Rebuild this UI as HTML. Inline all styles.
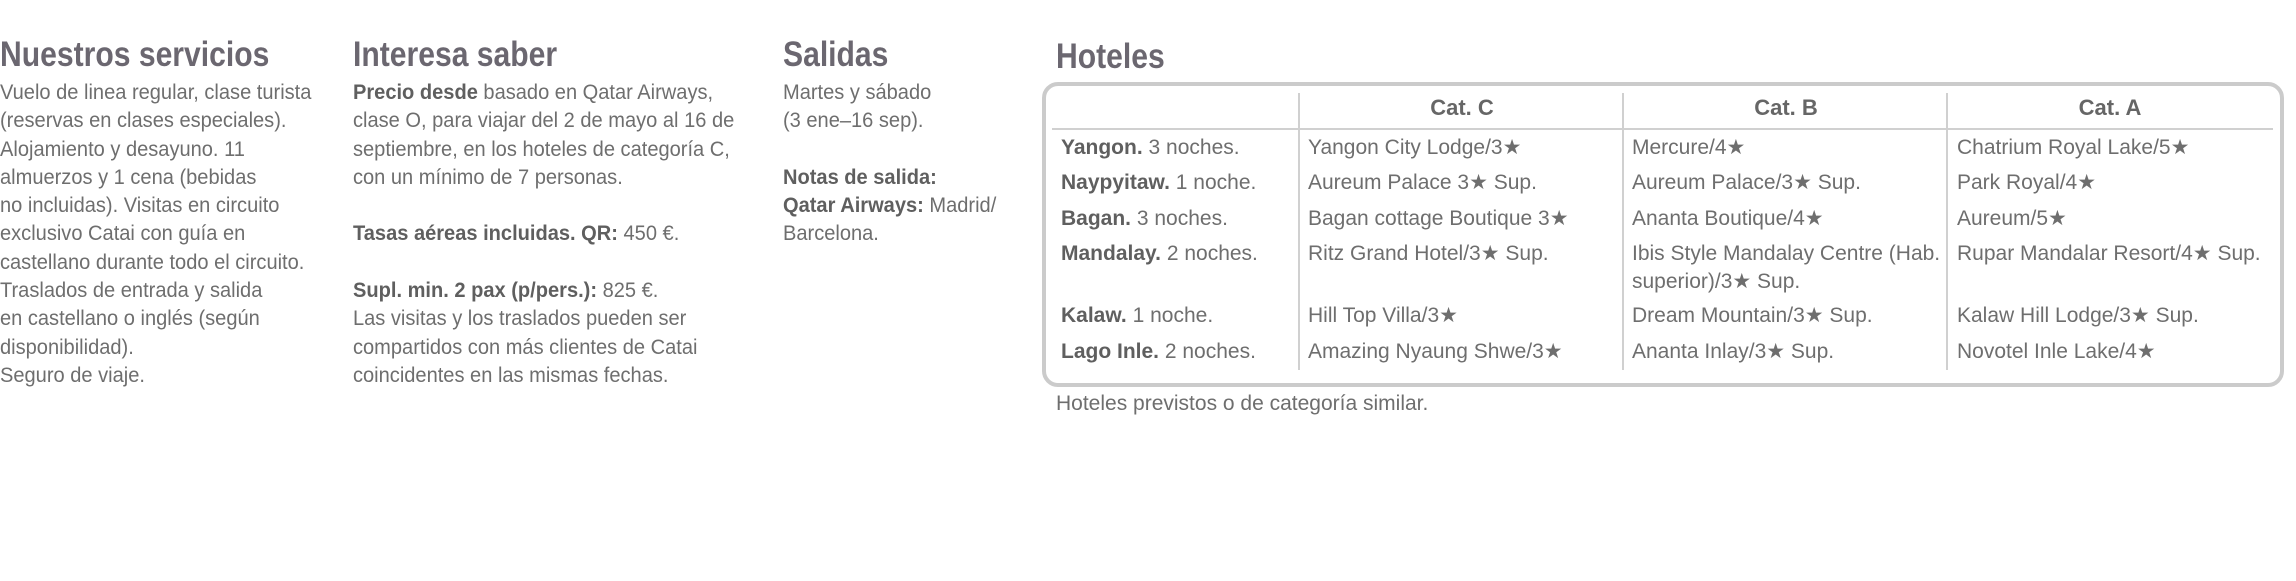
<!DOCTYPE html>
<html><head><meta charset="utf-8"><style>
html,body{margin:0;padding:0;background:#fff;}
body{width:2296px;height:581px;position:relative;overflow:hidden;font-family:"Liberation Sans Narrow","Liberation Sans",sans-serif;color:#6e6e6e;}
.h{position:absolute;font-size:35px;line-height:34px;font-weight:bold;color:#6b6770;white-space:nowrap;transform:scaleX(0.86);transform-origin:0 0;}
.t{position:absolute;font-size:21px;line-height:28.3px;white-space:nowrap;transform:scaleX(0.955);transform-origin:0 0;}
b{color:#5f5f5f;}
.c{position:absolute;font-size:21px;line-height:28px;white-space:nowrap;}
.hd{position:absolute;font-size:22px;line-height:28px;font-weight:bold;color:#666;text-align:center;width:324px;}
.v{position:absolute;width:2px;background:#d0d0d0;top:93px;height:277px;}
</style></head><body>
<div class="h" style="left:0;top:38px">Nuestros servicios</div>
<div class="t" style="left:0;top:79px">Vuelo de linea regular, clase turista<br>(reservas en clases especiales).<br>Alojamiento y desayuno. 11<br>almuerzos y 1 cena (bebidas<br>no incluidas). Visitas en circuito<br>exclusivo Catai con guía en<br>castellano durante todo el circuito.<br>Traslados de entrada y salida<br>en castellano o inglés (según<br>disponibilidad).<br>Seguro de viaje.</div>

<div class="h" style="left:353px;top:38px">Interesa saber</div>
<div class="t" style="left:353px;top:79px"><b>Precio desde</b> basado en Qatar Airways,<br>clase O, para viajar del 2 de mayo al 16 de<br>septiembre, en los hoteles de categoría C,<br>con un mínimo de 7 personas.<br>&nbsp;<br><b>Tasas aéreas incluidas. QR:</b> 450 €.<br>&nbsp;<br><b>Supl. min. 2 pax (p/pers.):</b> 825 €.<br>Las visitas y los traslados pueden ser<br>compartidos con más clientes de Catai<br>coincidentes en las mismas fechas.</div>

<div class="h" style="left:783px;top:38px">Salidas</div>
<div class="t" style="left:783px;top:79px">Martes y sábado<br>(3 ene–16 sep).<br>&nbsp;<br><b>Notas de salida:</b><br><b>Qatar Airways:</b> Madrid/<br>Barcelona.</div>

<div class="h" style="left:1056px;top:40px">Hoteles</div>
<div style="position:absolute;left:1042px;top:82px;width:1234px;height:297px;border:4px solid #cbcbcb;border-radius:16px;"></div>
<div style="position:absolute;left:1052px;top:128px;width:1221px;height:2px;background:#d0d0d0;"></div>
<div class="v" style="left:1298px"></div>
<div class="v" style="left:1622px"></div>
<div class="v" style="left:1946px"></div>
<div class="hd" style="left:1300px;top:94px">Cat. C</div>
<div class="hd" style="left:1624px;top:94px">Cat. B</div>
<div class="hd" style="left:1948px;top:94px">Cat. A</div>

<div class="c" style="left:1061px;top:134px"><b>Yangon.</b> 3 noches.</div>
<div class="c" style="left:1061px;top:169px"><b>Naypyitaw.</b> 1 noche.</div>
<div class="c" style="left:1061px;top:205px"><b>Bagan.</b> 3 noches.</div>
<div class="c" style="left:1061px;top:240px"><b>Mandalay.</b> 2 noches.</div>
<div class="c" style="left:1061px;top:302px"><b>Kalaw.</b> 1 noche.</div>
<div class="c" style="left:1061px;top:338px"><b>Lago Inle.</b> 2 noches.</div>

<div class="c" style="left:1308px;top:134px">Yangon City Lodge/3★</div>
<div class="c" style="left:1308px;top:169px">Aureum Palace 3★ Sup.</div>
<div class="c" style="left:1308px;top:205px">Bagan cottage Boutique 3★</div>
<div class="c" style="left:1308px;top:240px">Ritz Grand Hotel/3★ Sup.</div>
<div class="c" style="left:1308px;top:302px">Hill Top Villa/3★</div>
<div class="c" style="left:1308px;top:338px">Amazing Nyaung Shwe/3★</div>

<div class="c" style="left:1632px;top:134px">Mercure/4★</div>
<div class="c" style="left:1632px;top:169px">Aureum Palace/3★ Sup.</div>
<div class="c" style="left:1632px;top:205px">Ananta Boutique/4★</div>
<div class="c" style="left:1632px;top:240px">Ibis Style Mandalay Centre (Hab.<br>superior)/3★ Sup.</div>
<div class="c" style="left:1632px;top:302px">Dream Mountain/3★ Sup.</div>
<div class="c" style="left:1632px;top:338px">Ananta Inlay/3★ Sup.</div>

<div class="c" style="left:1957px;top:134px">Chatrium Royal Lake/5★</div>
<div class="c" style="left:1957px;top:169px">Park Royal/4★</div>
<div class="c" style="left:1957px;top:205px">Aureum/5★</div>
<div class="c" style="left:1957px;top:240px">Rupar Mandalar Resort/4★ Sup.</div>
<div class="c" style="left:1957px;top:302px">Kalaw Hill Lodge/3★ Sup.</div>
<div class="c" style="left:1957px;top:338px">Novotel Inle Lake/4★</div>

<div class="c" style="left:1056px;top:390px">Hoteles previstos o de categoría similar.</div>
</body></html>
